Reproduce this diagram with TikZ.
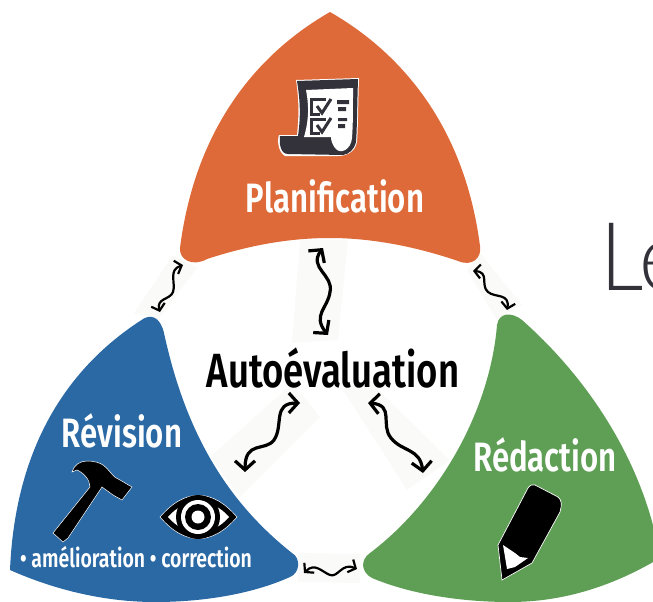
\documentclass[tikz,border=0pt]{standalone}
\usepackage{fontspec}
\setmainfont{Fira Sans}
\newfontfamily\titlefont[FakeStretch=0.76]{Fira Sans SemiBold}
\newfontfamily\lightfont[FakeStretch=0.9]{Lato Light}
\usetikzlibrary{arrows.meta}
\definecolor{orangephase}{HTML}{DD6A38}
\definecolor{bluephase}{HTML}{2B69A5}
\definecolor{greenphase}{HTML}{5F9F55}
\definecolor{stripgray}{HTML}{FAFAF8}
\definecolor{iconink}{HTML}{33323A}
\tikzset{
    phase/.style={
        draw=none
    },
    phaselabel/.style={
        text=white,
        font=\titlefont\fontsize{41}{41}\selectfont,
        inner sep=0pt
    },
    strip/.style={
        fill=stripgray,
        draw=none
    },
    wavearrow/.style={
        line width=3.2pt,
        black,
        {Straight Barb[length=9pt, width=20pt]}-{Straight Barb[length=9pt, width=20pt]}
    },
    smallwave/.style={
        line width=2.2pt,
        black,
        {Straight Barb[length=6pt, width=14pt]}-{Straight Barb[length=6pt, width=14pt]}
    }
}

\begin{document}
\begin{tikzpicture}[x=1pt, y=-1pt]
    \useasboundingbox (0, 0) rectangle (653, 602);
    % Strips:
    \fill [strip] (134, 313) -- (173, 255) -- (197, 268) -- (158, 320) -- cycle;
    \fill [strip] (467, 270) -- (480, 253) -- (522, 305) -- (497, 320) -- cycle;
    \fill [strip] (300, 240) -- (348, 240) -- (338, 340) -- (292, 343) -- cycle;
    \fill [strip] (210, 457) -- (293, 383) -- (320, 417) -- (240, 497) -- cycle;
    \fill [strip] (343, 390) -- (368, 380) -- (450, 460) -- (407, 490) -- cycle;
    \fill [strip] (298, 553) -- (360, 554) -- (360, 583) -- (298, 582) -- cycle;
    % Phases:
    \fill [orangephase, phase] (330, 12)
        .. controls (255, 55) and (195, 130) .. (180, 248)
        .. controls (179, 260) and (193, 267) .. (207, 259)
        .. controls (250, 245) and (290, 238) .. (330, 238)
        .. controls (375, 238) and (420, 248) .. (458, 261)
        .. controls (472, 267) and (482, 258) .. (480, 246)
        .. controls (465, 130) and (405, 55) .. (330, 12) -- cycle;
    \fill [bluephase, phase] (140, 321)
        .. controls (65, 370) and (15, 450) .. (10, 570)
        .. controls (55, 590) and (105, 602) .. (155, 602)
        .. controls (200, 602) and (250, 595) .. (290, 577)
        .. controls (300, 573) and (301, 558) .. (292, 553)
        .. controls (225, 500) and (185, 430) .. (164, 333)
        .. controls (160, 316) and (150, 313) .. (140, 321) -- cycle;
    \fill [greenphase, phase] (497, 325)
        .. controls (490, 410) and (440, 500) .. (370, 553)
        .. controls (360, 560) and (361, 572) .. (372, 578)
        .. controls (410, 594) and (460, 602) .. (510, 602)
        .. controls (560, 602) and (610, 588) .. (660, 558)
        .. controls (645, 465) and (590, 380) .. (522, 320)
        .. controls (512, 312) and (499, 312) .. (497, 325) -- cycle;
    % Labels:
    \node [phaselabel] (planification) at (335, 196) {Planification};
    \node [phaselabel] (revision) at (122, 431) {Révision};
    \node [phaselabel] (redaction) at (545, 455) {Rédaction};
    \node [text=black, font=\titlefont\fontsize{48}{48}\selectfont, inner sep=0pt] (autoevaluation) at (333, 368) {Autoévaluation};
    \node [text=white, font=\titlefont\fontsize{25.6}{26}\selectfont, inner sep=0pt] (details) at (136, 557) {• amélioration • correction};
    \node [anchor=base west, text=iconink, font=\lightfont\fontsize{95}{95}\selectfont, inner sep=0pt] (le) at (600, 290) {Le};
    % Wave arrows:
    \coordinate (a1) at (183, 265);
    \coordinate (a2) at (160, 312);
    \coordinate (b1) at (323, 248);
    \coordinate (b2) at (328, 335);
    \coordinate (c1) at (300, 403);
    \coordinate (c2) at (245, 472);
    \coordinate (d1) at (368, 403);
    \coordinate (d2) at (423, 473);
    \coordinate (e1) at (304, 573);
    \coordinate (e2) at (357, 569);
    \coordinate (f1) at (473, 271);
    \coordinate (f2) at (507, 310);
    \draw [smallwave] (a1) .. controls (168, 270) and (176, 283) .. (173, 292) .. controls (170, 300) and (156, 298) .. (160, 312);
    \draw [wavearrow] (b1) .. controls (308, 268) and (334, 275) .. (330, 292) .. controls (328, 308) and (312, 315) .. (328, 335);
    \draw [wavearrow] (c1) .. controls (272, 403) and (284, 425) .. (274, 440) .. controls (265, 452) and (245, 440) .. (245, 472);
    \draw [wavearrow] (d1) .. controls (395, 405) and (380, 425) .. (391, 438) .. controls (402, 452) and (420, 448) .. (423, 473);
    \draw [smallwave] (e1) .. controls (315, 562) and (322, 572) .. (330, 575) .. controls (338, 578) and (342, 562) .. (357, 569);
    \draw [smallwave] (f1) .. controls (490, 272) and (480, 285) .. (488, 292) .. controls (495, 298) and (510, 293) .. (507, 310);
    % Checklist:
    \fill [white] (296, 80) -- (359, 78) .. controls (358, 110) and (358, 130) .. (357, 142) .. controls (355, 153) and (345, 156) .. (338, 156) -- (285, 156) .. controls (278, 152) and (277, 140) .. (279, 135) -- (297, 135) .. controls (299, 115) and (299, 100) .. (296, 80) -- cycle;
    \fill [iconink] (297, 81) -- (358, 79) .. controls (357, 110) and (357, 130) .. (356, 142) .. controls (354, 150) and (349, 154) .. (343, 155) -- (288, 154) .. controls (281, 154) and (279, 145) .. (280, 136) -- (298, 136) .. controls (301, 115) and (300, 100) .. (297, 81) -- cycle;
    \fill [white] (306, 90) -- (353, 88) .. controls (353, 110) and (353, 125) .. (352, 138) .. controls (351, 150) and (340, 155) .. (335, 148) .. controls (332, 144) and (331, 140) .. (331, 137) -- (304, 137) .. controls (309, 120) and (309, 105) .. (306, 90) -- cycle;
    \draw [iconink, line width=3pt] (326, 99) -- (311, 99) -- (311, 114) -- (320, 114);
    \draw [iconink, line width=3pt] (326, 119) -- (311, 119) -- (311, 133) -- (320, 133);
    \draw [iconink, line width=3pt] (317, 106) -- (322, 113) -- (331, 99);
    \draw [iconink, line width=3pt] (317, 125) -- (322, 132) -- (331, 118);
    \fill [iconink] (337, 100) rectangle (349, 104) (338, 107) rectangle (346, 111) (338, 118) rectangle (347, 121) (338, 124) rectangle (345, 128);
    % Hammer:
    \fill [black, draw=white, line width=0.5pt] (72, 472)
        .. controls (74, 465) and (80, 461) .. (87, 461)
        .. controls (95, 461) and (100, 463) .. (103, 465)
        .. controls (110, 470) and (113, 478) .. (120, 480)
        -- (132, 487) -- (122, 500) -- (113, 495) -- (102, 487)
        -- (68, 538) -- (63, 542) -- (53, 533) -- (90, 487)
        .. controls (90, 480) and (84, 473) .. (77, 470) -- cycle;
    % Eye:
    \fill [black, draw=white, line width=0.5pt] (160, 517) .. controls (185, 488) and (212, 488) .. (237, 517) .. controls (212, 546) and (185, 546) .. (160, 517) -- cycle;
    \fill [white] (168, 517) .. controls (185, 497) and (212, 497) .. (229, 517) .. controls (212, 537) and (185, 537) .. (168, 517) -- cycle;
    \fill [black] (198, 517) circle (22);
    \fill [white] (198, 517) circle (17);
    \fill [black] (198, 517) circle (13);
    \fill [white] (198, 517) circle (6.5);
    % Pencil:
    \fill [black, draw=white, line width=0.7pt] (528, 488)
        .. controls (530, 485) and (533, 484) .. (535, 485)
        -- (558, 497) .. controls (562, 500) and (562, 505) .. (560, 512)
        -- (532, 563) -- (502, 580) -- (498, 545) -- cycle;
    \fill [white] (503, 545) -- (515, 553) -- (520, 557) -- (528, 558) -- (515, 567) -- (507, 569) -- cycle;
\end{tikzpicture}
\end{document}
